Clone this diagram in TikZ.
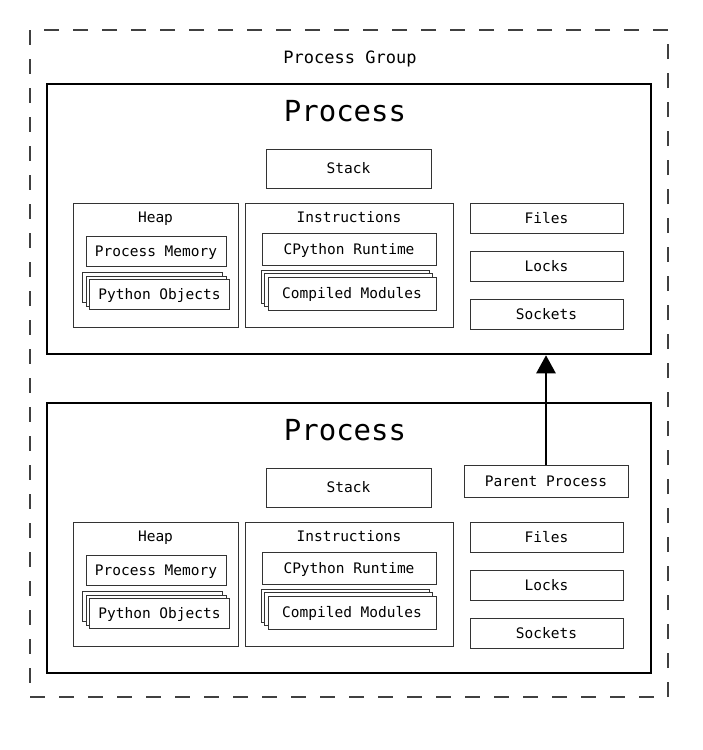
\documentclass[tikz,border=0pt]{standalone}
\usepackage{fontspec}
\usepackage{tikz}
\usetikzlibrary{arrows.meta,shadows,positioning}
\newfontfamily\diagfont{DejaVu Sans Mono}
\tikzset{
  procbox/.style = {rectangle, draw=black, line width=2.5pt, minimum width=604pt, minimum height=270pt},
  areabox/.style = {rectangle, draw=black!80, line width=1pt, minimum height=124pt},
  itembox/.style = {rectangle, draw=black!80, line width=1pt, fill=white, inner sep=0pt, text height=10.6pt, text depth=0pt, font=\diagfont\fontsize{14.5}{16}\selectfont},
  stackbox/.style = {itembox, double copy shadow={shadow xshift=-3.5pt, shadow yshift=3.5pt, draw=black!80, fill=white}},
  caption/.style = {inner sep=0pt, text height=10.6pt, text depth=0pt, font=\diagfont\fontsize{14.5}{16}\selectfont},
  line/.style = {draw, line width=2.5pt, -{Triangle[width=19pt,length=18pt]}}
}
\begin{document}
\begin{tikzpicture}[x=1pt,y=-1pt]
  \useasboundingbox (0,0) rectangle (702,750);
  % process group
  \draw [black!75, line width=1.5pt, dash pattern=on 15pt off 14pt] (30,30) rectangle (668,697);
  \node [inner sep=0pt, text height=12.4pt, text depth=0pt, font=\diagfont\fontsize{17}{19}\selectfont] (group) at (350,57) {Process Group};
  % the two processes
  \foreach \p/\dy in {top/0, bot/319} {
    \node [procbox] (\p-proc) at (349,219+\dy) {};
    \node [inner sep=0pt, text height=21.3pt, text depth=0pt, font=\diagfont\fontsize{29}{32}\selectfont] (\p-title) at (345,111+\dy) {Process};
    \node [itembox, minimum width=165pt, minimum height=39pt] (\p-stack) at (348.5,168.5+\dy) {Stack};
    % heap
    \node [areabox, minimum width=165pt] (\p-heap) at (155.5,265+\dy) {};
    \node [caption] (\p-heaplbl) at (155.5,217.5+\dy) {Heap};
    \node [itembox, minimum width=140pt, minimum height=30pt] (\p-mem) at (156,251+\dy) {Process Memory};
    \node [stackbox, minimum width=140pt, minimum height=30pt] (\p-obj) at (159.5,294.5+\dy) {Python Objects};
    % instructions
    \node [areabox, minimum width=208pt] (\p-instr) at (349,265+\dy) {};
    \node [caption] (\p-instrlbl) at (349,217.5+\dy) {Instructions};
    \node [itembox, minimum width=174pt, minimum height=32pt] (\p-rt) at (349,249+\dy) {CPython Runtime};
    \node [stackbox, minimum width=168pt, minimum height=33pt] (\p-mods) at (352,293.5+\dy) {Compiled Modules};
    % resources
    \node [itembox, minimum width=153pt, minimum height=30pt] (\p-files) at (546.5,218+\dy) {Files};
    \node [itembox, minimum width=153pt, minimum height=30pt, below=17pt of \p-files] (\p-locks) {Locks};
    \node [itembox, minimum width=153pt, minimum height=30pt, below=17pt of \p-locks] (\p-sockets) {Sockets};
  }
  \node [itembox, minimum width=164pt, minimum height=32pt] (parent) at (546,481) {Parent Process};

  \path [line] (parent.north) -- (parent.north |- top-proc.south);
\end{tikzpicture}
\end{document}
